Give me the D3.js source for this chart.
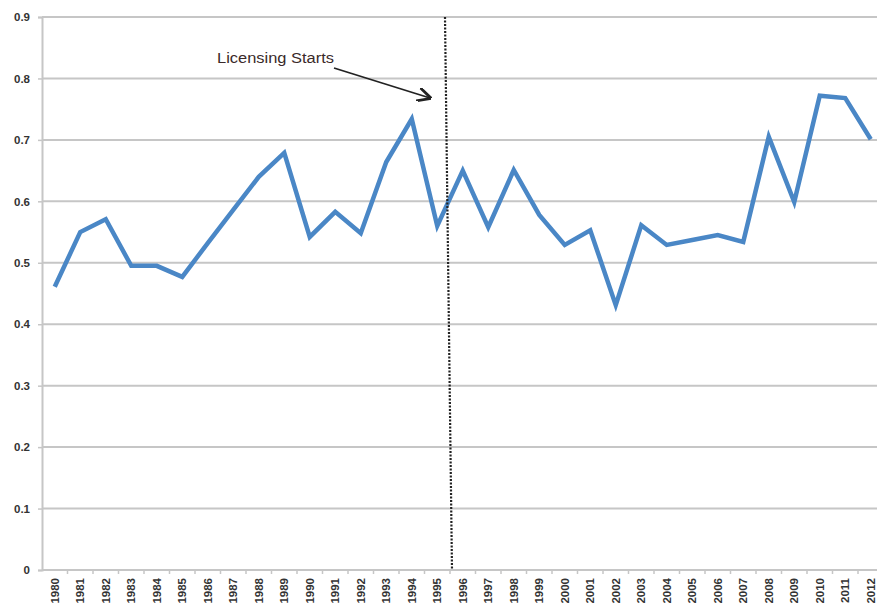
<!DOCTYPE html>
<html>
<head>
<meta charset="utf-8">
<script src="https://cdn.jsdelivr.net/npm/d3@7/dist/d3.min.js"></script>
<style>
  html, body { margin: 0; padding: 0; background: #fff; overflow: hidden; }
  svg { display: block; }
</style>
</head>
<body>
<svg id="chart" width="877" height="608"></svg>
<script>
// Yearly series, 1980–2012
const years = ["1980","1981","1982","1983","1984","1985","1986","1987","1988","1989",
  "1990","1991","1992","1993","1994","1995","1996","1997","1998","1999",
  "2000","2001","2002","2003","2004","2005","2006","2007","2008","2009",
  "2010","2011","2012"];
const values = [0.461, 0.550, 0.571, 0.495, 0.495, 0.477, 0.532, 0.586, 0.640, 0.679,
  0.542, 0.583, 0.548, 0.664, 0.734, 0.560, 0.650, 0.558, 0.651, 0.578,
  0.529, 0.553, 0.431, 0.561, 0.529, 0.537, 0.545, 0.534, 0.705, 0.599,
  0.772, 0.768, 0.701];
const yTicks = [0, 0.1, 0.2, 0.3, 0.4, 0.5, 0.6, 0.7, 0.8, 0.9];
const markerYear = "1995";          // licensing begins after this year
const markerLabel = "Licensing Starts";

const svg = d3.select("#chart");
const plotLeft = 42, plotTop = 17, plotBottom = 570;
const band = 25.5;
const plotRight = plotLeft + band * years.length;

const x = d3.scaleBand().domain(years).range([plotLeft, plotRight]);
const y = d3.scaleLinear().domain([0, 0.9]).range([plotBottom, plotTop]);

// horizontal gridlines
svg.append("g")
  .selectAll("line")
  .data(yTicks.filter(d => d > 0))
  .join("line")
  .attr("x1", plotLeft).attr("x2", plotRight)
  .attr("y1", d => y(d)).attr("y2", d => y(d))
  .attr("stroke", "#c6c6c6").attr("stroke-width", 2);

// y axis
const yAxis = svg.append("g")
  .attr("transform", `translate(${plotLeft},0)`)
  .call(d3.axisLeft(y).tickValues(yTicks).tickSize(4).tickPadding(8)
    .tickFormat(d => d === 0 ? "0" : d3.format(".1f")(d)));
yAxis.select(".domain").attr("stroke", "#c6c6c6").attr("stroke-width", 2);
yAxis.selectAll(".tick line").attr("stroke", "#c6c6c6").attr("stroke-width", 1.5);
yAxis.selectAll(".tick text")
  .attr("fill", "#333").attr("font-family", "Liberation Sans, Arial, sans-serif")
  .attr("font-size", 11.5).attr("font-weight", "bold");

// x axis with ticks on band boundaries
const xAxis = svg.append("g")
  .attr("transform", `translate(0,${plotBottom})`);
xAxis.append("line")
  .attr("x1", plotLeft).attr("x2", plotRight)
  .attr("stroke", "#c6c6c6").attr("stroke-width", 2);
xAxis.selectAll("line.tk")
  .data(years)
  .join("line")
  .attr("class", "tk")
  .attr("x1", d => x(d) + x.bandwidth()).attr("x2", d => x(d) + x.bandwidth())
  .attr("y1", 0).attr("y2", 4)
  .attr("stroke", "#c6c6c6").attr("stroke-width", 1.5);
xAxis.selectAll("text.lbl")
  .data(years)
  .join("text")
  .attr("class", "lbl")
  .attr("transform", d => `translate(${x(d) + x.bandwidth() / 2 + 4},8) rotate(-90)`)
  .attr("text-anchor", "end")
  .attr("fill", "#333")
  .attr("font-family", "Liberation Sans, Arial, sans-serif")
  .attr("font-size", 11.5).attr("font-weight", "bold")
  .text(d => d);

// data line
const line = d3.line()
  .x((d, i) => x(years[i]) + x.bandwidth() / 2)
  .y(d => y(d));
svg.append("path")
  .datum(values)
  .attr("d", line)
  .attr("fill", "none")
  .attr("stroke", "#4a87c6")
  .attr("stroke-width", 4.5)
  .attr("stroke-linejoin", "miter");

// dotted vertical marker at the 1995/1996 boundary
const mx = x(markerYear) + x.bandwidth();
svg.append("line")
  .attr("x1", mx - 5).attr("y1", plotTop)
  .attr("x2", mx + 2).attr("y2", plotBottom)
  .attr("stroke", "#222").attr("stroke-width", 2.2)
  .attr("stroke-dasharray", "2,1.5");

// annotation with arrow
const defs = svg.append("defs");
defs.append("marker")
  .attr("id", "arrow")
  .attr("viewBox", "0 0 10 10")
  .attr("refX", 9).attr("refY", 5)
  .attr("markerWidth", 14).attr("markerHeight", 14)
  .attr("markerUnits", "userSpaceOnUse")
  .attr("orient", "auto")
  .append("path")
  .attr("d", "M0,0 L10,5 L0,10")
  .attr("fill", "none").attr("stroke", "#222").attr("stroke-width", 2);

svg.append("text")
  .attr("x", 217).attr("y", 63)
  .attr("fill", "#3a2a2a")
  .attr("font-family", "Liberation Sans, Arial, sans-serif")
  .attr("font-size", 15.5)
  .attr("textLength", 117)
  .attr("lengthAdjust", "spacingAndGlyphs")
  .text(markerLabel);

svg.append("line")
  .attr("x1", 334).attr("y1", 68)
  .attr("x2", mx - 20).attr("y2", 98)
  .attr("stroke", "#222").attr("stroke-width", 1.8)
  .attr("marker-end", "url(#arrow)");
</script>
</body>
</html>
